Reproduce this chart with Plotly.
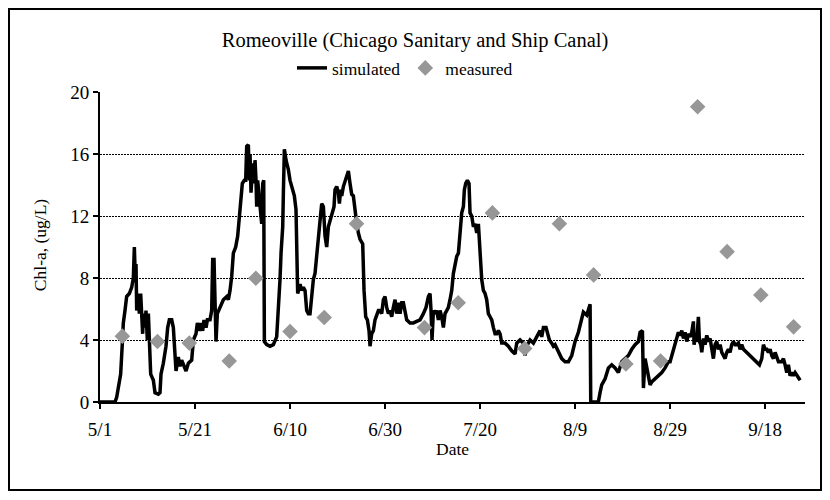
import pandas as pd
import plotly.graph_objects as go

# ---- data (days after 5/1, values in ug/L) ----
start_date = "2005-05-01"

sim_day = [0, 3.16, 3.51, 3.86, 4.35, 4.70, 4.91, 5.26, 5.61, 6.18, 6.67, 7.02, 7.23, 7.44, 7.58, 7.72,
           8.07, 8.28, 8.56, 8.77, 8.98, 9.12, 9.47, 9.68, 9.96, 10.18, 10.53, 10.67, 11.23, 11.58, 12.28,
           12.63, 12.84, 13.33, 13.89, 14.25, 14.60, 15.09, 15.44, 15.79, 16.00, 16.49, 16.84, 17.19, 17.68,
           18.11, 18.60, 19.30, 19.65, 20.21, 20.49, 20.91, 21.19, 21.61, 21.89, 22.32, 22.60, 23.16, 23.51,
           23.72, 24.00, 24.21, 24.42, 24.70, 25.26, 25.96, 26.67, 27.02, 27.37, 27.72, 28.07, 28.56, 28.98,
           29.33, 29.61, 29.96, 30.39, 30.67, 30.88, 31.23, 31.44, 31.58, 31.79, 32.14, 32.42, 32.63, 32.84,
           32.98, 33.19, 33.54, 33.82, 34.04, 34.25, 34.46, 34.60, 35.09, 35.79, 36.49, 37.19, 37.54, 37.89,
           38.11, 38.46, 38.60, 38.81, 39.16, 39.65, 40.00, 40.49, 40.91, 41.26, 41.40, 41.61, 42.11, 42.46,
           42.81, 43.16, 43.51, 43.86, 44.21, 44.56, 44.91, 45.26, 45.61, 45.96,
           46.32, 46.67, 47.02, 47.37, 47.72, 48.07, 48.42, 48.98, 49.26, 49.47, 49.82, 50.18, 50.39, 50.67,
           50.88, 51.23, 51.58, 51.93, 52.28, 52.63, 52.98, 53.33, 53.68, 54.04, 54.39, 54.74, 55.30, 55.44,
           55.58, 55.93, 56.28, 56.63, 56.84, 57.19, 57.54, 57.89, 58.25, 58.60, 58.95, 59.30, 59.65, 60.00,
           60.35, 60.70, 61.05, 61.40, 61.75, 62.11, 62.46, 62.81, 63.16, 63.51, 63.86, 64.21, 64.56, 65.26,
           65.96, 66.67, 67.37, 68.07, 68.63, 69.12, 69.47, 69.68, 69.89, 70.18, 70.53, 70.88, 71.23, 71.58,
           71.93, 72.28, 72.63, 72.98, 73.33, 73.68, 74.04, 74.39, 74.74, 75.09, 75.44, 75.79, 76.14, 76.49,
           76.70, 76.98, 77.33, 77.68, 77.89, 78.25, 78.60, 78.95, 79.30, 79.65, 80.00, 80.35, 80.70, 81.05,
           81.40, 81.75, 82.11, 82.46, 82.81, 83.16, 83.51, 83.86, 84.21, 84.56, 85.26, 85.96, 86.67, 87.37,
           87.72, 88.42, 89.12, 89.47, 89.82, 90.53, 91.23, 91.93, 92.63,
           92.98, 93.33, 93.89, 94.18, 94.60, 95.09, 95.44,
           95.79, 96.49, 97.19, 97.89, 98.60, 99.30, 100.00, 100.70, 101.05, 101.40, 101.75, 102.46, 102.81,
           103.16, 103.30, 104.90, 105.26, 105.61, 106.32, 107.02, 107.72, 108.42, 109.12, 109.82, 110.53,
           111.23, 111.93, 112.63, 113.33, 113.68, 114.18, 114.39, 114.74, 115.09, 115.44, 115.79, 116.14,
           116.84, 117.54, 118.25, 118.95, 119.65,
           120.00, 120.35, 120.70, 121.05, 121.40, 121.75, 122.11, 122.46, 122.81, 123.16, 123.51, 123.86,
           124.21, 124.56, 124.91, 125.05, 125.26, 125.61, 125.96, 126.18, 126.46, 126.67, 127.02, 127.37,
           127.72, 128.07, 128.42, 128.77, 129.12, 129.47, 129.82, 130.18, 130.53, 130.88, 131.23, 131.58,
           131.93, 132.28, 132.63, 132.98, 133.33, 133.68, 134.04, 134.39, 134.74, 135.09, 135.44, 136.14,
           136.84, 137.54, 138.25, 138.81, 139.30, 139.65, 140.00, 140.35, 140.70, 141.05, 141.40, 141.75,
           142.11, 142.46, 142.81, 143.51, 143.86, 144.21, 144.56, 144.91, 145.26, 145.61, 145.96, 146.32,
           146.67, 147.02, 147.37]

sim_val = [0, 0, 0.3, 1.1, 1.8, 3.8, 5.1, 5.9, 6.8, 7.0, 7.4, 8.0, 10.0, 7.9, 8.9, 5.9,
           7.0, 5.7, 7.0, 5.7, 4.4, 5.7, 4.8, 5.9, 4.0, 5.7, 2.9, 1.8, 1.4, 0.6, 0.5,
           0.6, 1.8, 2.5, 3.6, 4.8, 5.3, 5.3, 4.8, 2.7, 2.0, 2.9, 2.3, 2.7, 2.3,
           2.0, 2.5, 2.7, 4.0, 4.4, 5.1, 4.6, 5.1, 4.6, 5.3, 4.8, 5.3, 5.3, 5.9,
           9.2, 9.2, 5.7, 3.9, 5.7, 6.1, 6.6, 6.8, 6.6, 7.2, 8.1, 9.6, 10.0, 10.7,
           12.0, 13.0, 14.1, 14.3, 14.3, 16.5, 16.6, 14.3, 16.0, 13.5, 15.4, 14.1, 15.6, 14.3,
           12.6, 14.3, 13.0, 12.2, 11.5, 14.1, 14.3, 3.9, 3.7, 3.6, 3.7, 4.2, 5.9, 7.9,
           9.6, 11.3, 13.5, 16.3, 15.6, 15.0, 14.3, 13.7, 13.3, 12.4, 8.3, 7.0, 7.6, 7.2,
           7.4, 7.2, 5.9, 5.7, 5.7, 7.0, 7.9, 8.3, 9.6, 10.3,
           11.7, 12.8, 12.6, 10.7, 10.0, 11.3, 11.7, 12.2, 12.6, 13.7, 13.9, 13.5, 12.8, 13.7,
           13.3, 13.9, 14.3, 14.5, 14.9, 14.1, 13.4, 13.3, 12.2, 11.5, 10.9, 10.5, 10.2, 8.7,
           7.2, 5.5, 5.3, 4.6, 3.6, 4.4, 4.6, 5.3, 5.7, 5.9, 5.9, 5.7, 6.6, 6.8,
           6.1, 5.7, 5.9, 5.5, 6.1, 6.6, 5.7, 6.4, 5.7, 6.4, 6.4, 5.9, 5.3, 5.1,
           5.1, 5.2, 5.3, 5.7, 6.1, 6.8, 7.0, 5.9, 4.0, 5.9, 5.7, 5.9, 5.3, 5.9,
           5.5, 4.8, 5.7, 5.9, 6.1, 6.6, 7.2, 8.3, 8.9, 9.4, 9.6, 10.7, 12.2, 12.6,
           13.7, 14.1, 14.3, 14.1, 12.2, 12.0, 11.3, 11.5, 10.9, 11.5, 9.6, 7.9, 7.2, 7.0,
           6.6, 5.7, 5.5, 5.3, 4.8, 4.4, 4.4, 4.6, 4.4, 3.8, 3.8, 3.6, 3.3, 3.1,
           3.8, 4.0, 3.8, 3.0, 3.6, 4.0, 3.8, 4.2, 4.6,
           4.2, 4.8, 4.8, 4.4, 4.0, 3.8, 3.6,
           3.7, 3.2, 2.8, 2.6, 2.6, 3.0, 3.9, 4.5, 5.0, 5.4, 5.8, 5.6, 6.0,
           6.3, 0, 0, 0.6, 1.1, 1.5, 2.2, 2.4, 2.2, 1.9, 2.6, 2.8,
           3.0, 3.4, 3.7, 3.9, 4.5, 4.6, 0.9, 2.8, 2.2, 1.5, 1.1, 1.3,
           1.5, 1.7, 1.9, 2.2, 2.6,
           2.6, 3.0, 3.4, 3.9, 4.1, 4.5, 4.3, 4.6, 4.1, 4.5, 3.9, 4.4,
           4.2, 4.5, 5.2, 3.7, 4.1, 3.9, 5.5, 3.9, 3.7, 3.2, 4.1, 3.7,
           4.3, 3.9, 4.1, 3.4, 2.8, 3.7, 3.9, 3.4, 3.7, 3.2, 3.0, 2.8,
           3.2, 3.4, 3.2, 3.7, 3.9, 3.7, 3.7, 3.8, 3.4, 3.7, 3.4, 3.2,
           3.0, 2.8, 2.6, 2.4, 2.8, 3.7, 3.4, 3.4, 3.2, 3.4, 3.0, 2.8,
           3.2, 2.8, 2.6, 2.6, 2.8, 2.4, 1.9, 2.4, 1.7, 1.9, 1.7, 1.9,
           1.7, 1.5, 1.4]

meas_day = [4.7, 12.1, 18.8, 27.2, 32.8, 40.0, 47.2, 54.0, 68.3, 75.4, 82.6, 89.4,
            96.7, 103.9, 110.7, 118.0, 125.8, 132.0, 139.1, 146.0]
meas_val = [4.25, 3.9, 3.8, 2.65, 7.98, 4.55, 5.45, 11.5, 4.8, 6.4, 12.2, 3.45,
            11.5, 8.2, 2.45, 2.65, 19.05, 9.7, 6.9, 4.85]

tick_day = [0, 20, 40, 60, 80, 100, 120, 140]
tick_text = ["5/1", "5/21", "6/10", "6/30", "7/20", "8/9", "8/29", "9/18"]
x_end_day = 148.4

y_ticks = [0, 4, 8, 12, 16, 20]

title_text = "Romeoville (Chicago Sanitary and Ship Canal)"
y_label = "Chl-a, (ug/L)"
x_label = "Date"

# ---- build ----
t0 = pd.Timestamp(start_date)
to_date = lambda d: t0 + pd.to_timedelta(d, unit="D")
sim_x = [to_date(d) for d in sim_day]
meas_x = [to_date(d) for d in meas_day]
tick_x = [to_date(d) for d in tick_day]

FONT = "Liberation Serif, Times New Roman, serif"

fig = go.Figure()
fig.add_trace(go.Scatter(x=sim_x, y=sim_val, mode="lines", name="simulated",
                         line=dict(color="black", width=3.5)))
fig.add_trace(go.Scatter(x=meas_x, y=meas_val, mode="markers", name="measured",
                         marker=dict(symbol="diamond", size=12, color="#979797",
                                     line=dict(width=0))))

fig.update_layout(
    width=814, height=484,
    margin=dict(l=92, r=17, t=84, b=90),
    paper_bgcolor="white", plot_bgcolor="white",
    font=dict(family=FONT, size=18, color="black"),
    title=dict(text=title_text, x=0.5, xref="container", xanchor="center",
               y=1 - 32 / 484, yref="container", yanchor="middle",
               font=dict(family=FONT, size=20.5, color="black")),
    legend=dict(orientation="h", x=0.4326, xanchor="center", y=1.0774, yanchor="middle",
                font=dict(family=FONT, size=17.5), bgcolor="rgba(0,0,0,0)",
                itemwidth=30, tracegroupgap=0),
    showlegend=True,
)

fig.update_xaxes(
    type="date", range=[to_date(0), to_date(x_end_day)],
    tickmode="array", tickvals=tick_x, ticktext=tick_text,
    showgrid=False, zeroline=False,
    showline=True, linecolor="black", linewidth=2,
    ticks="outside", ticklen=5, tickwidth=2, tickcolor="black",
    ticklabelstandoff=4,
    tickfont=dict(family=FONT, size=19),
)
fig.update_yaxes(
    range=[0, 20], tickmode="array", tickvals=y_ticks,
    showgrid=True, gridcolor="black", gridwidth=1, griddash="2px,1px",
    zeroline=False, showline=True, linecolor="black", linewidth=2,
    ticks="outside", ticklen=5, tickwidth=2, tickcolor="black",
    tickfont=dict(family=FONT, size=19),
)

fig.add_annotation(text=y_label, xref="paper", yref="paper", x=-0.0851, y=0.506,
                   textangle=-90, showarrow=False, xanchor="center", yanchor="middle",
                   font=dict(family=FONT, size=17.5))
fig.add_annotation(text=x_label, xref="paper", yref="paper", x=0.5, y=-0.1516,
                   showarrow=False, xanchor="center", yanchor="middle",
                   font=dict(family=FONT, size=17.5))

fig.add_shape(type="rect", xref="paper", yref="paper",
              x0=-0.1291, x1=1.0227, y0=-0.2839, y1=1.2677,
              line=dict(color="black", width=2), fillcolor="rgba(0,0,0,0)", layer="below")

fig.write_html("out.html")
